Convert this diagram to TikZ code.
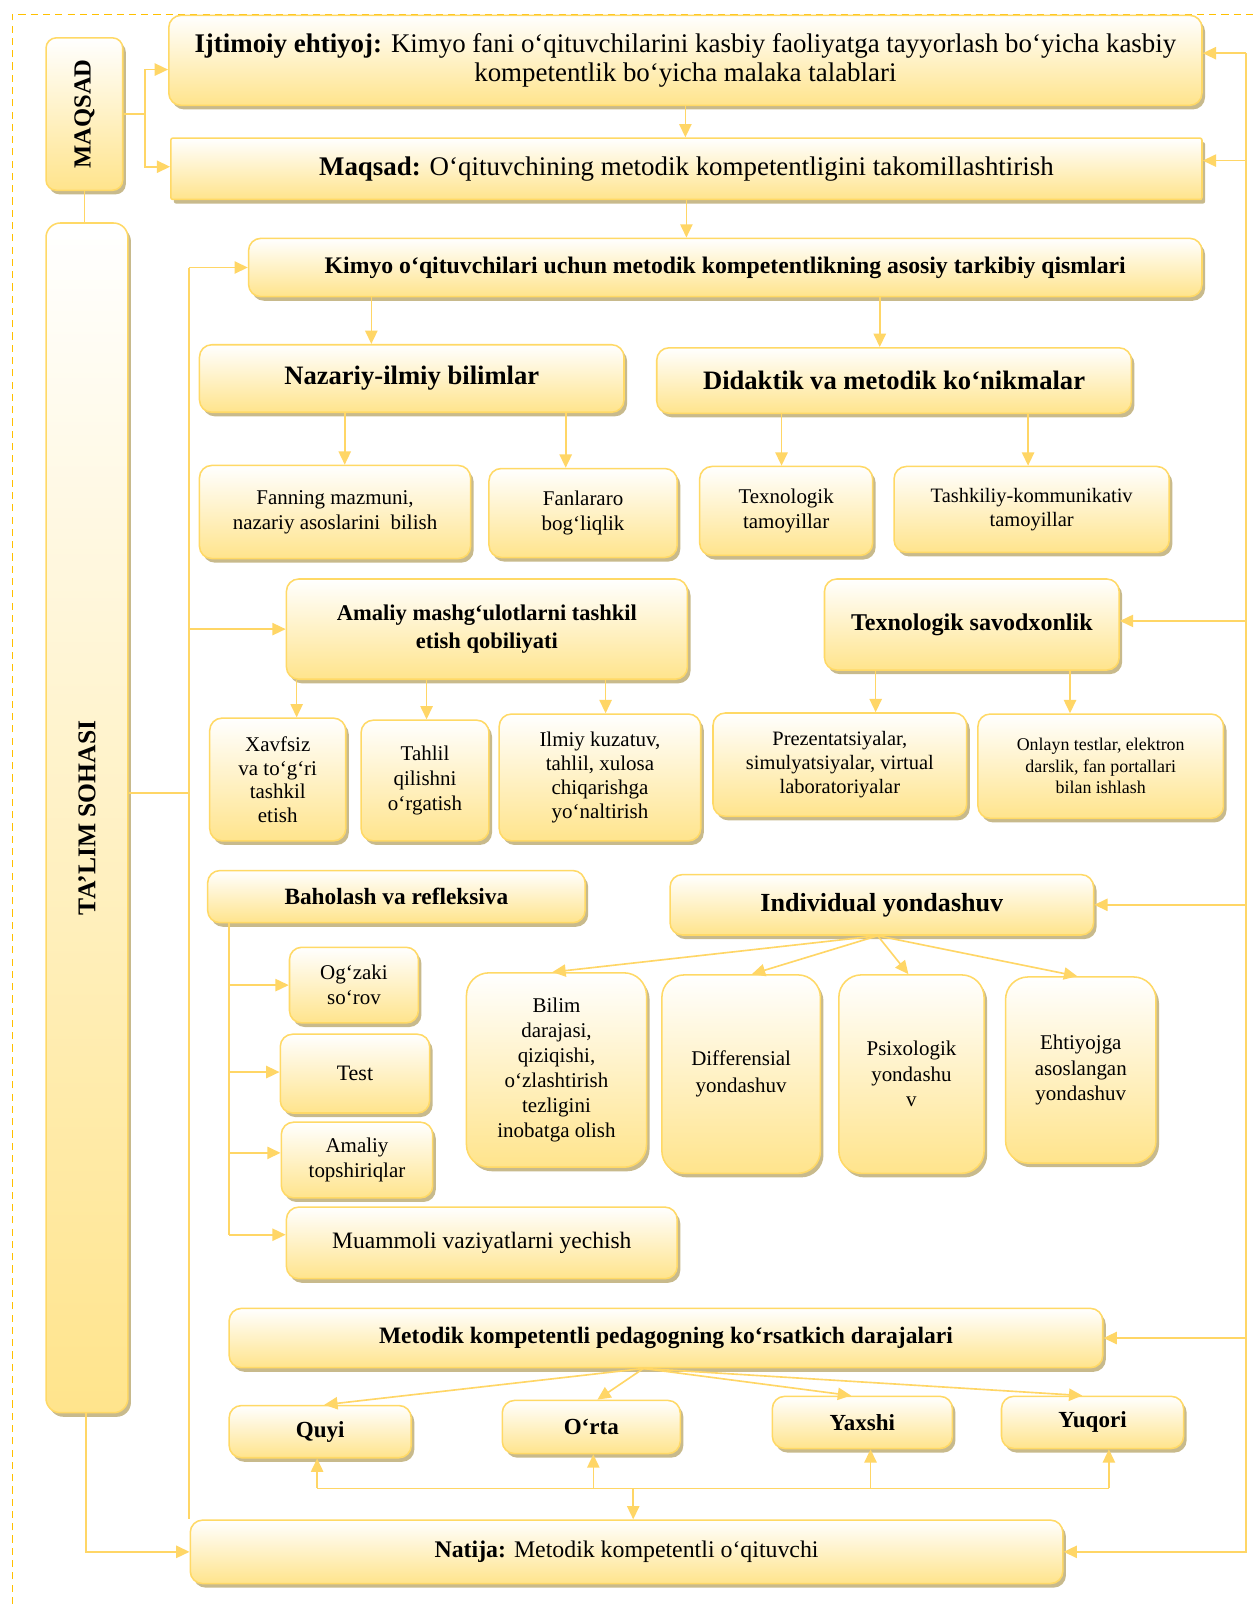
\documentclass[tikz,border=0pt]{standalone}
\usepackage{fontspec}
\setmainfont{Liberation Serif}
\usetikzlibrary{arrows.meta,shadows}
\definecolor{boxline}{RGB}{255,217,102}
\definecolor{boxfill}{RGB}{255,228,140}
\definecolor{shadowc}{RGB}{200,186,140}
\definecolor{connc}{RGB}{255,214,102}
\definecolor{dashc}{RGB}{255,192,0}
\newcommand{\fsz}[2]{\fontsize{#1}{#2}\selectfont}
\begin{document}
\begin{tikzpicture}[x=1pt,y=-1pt,
  box/.style={draw=boxline, line width=1.5pt, rounded corners=12pt,
    top color=white, bottom color=boxfill,
    drop shadow={shadow xshift=3pt, shadow yshift=-4pt, fill=shadowc, opacity=1},
    inner sep=0pt, align=center, text=black},
  tall/.style={box, rounded corners=22pt},
  cline/.style={draw=connc, line width=1.6pt},
  arr/.style={cline, -{Triangle[length=13pt,width=12pt]}},
  small/.style={font={\fsz{20.5}{24.5}}},
  bhead/.style={font={\fsz{22}{28}\bfseries}},
  lvl/.style={font={\fsz{22.5}{26}\bfseries}}]
\fill[white] (0,0) rectangle (1225,1568);
\useasboundingbox (0,0) rectangle (1225,1568);
\draw[dashc, line width=1.5pt, dash pattern=on 7pt off 5pt] (12,1568) -- (12,14) -- (1225,14);

% left column
\node[box, rounded corners=10pt, minimum width=75pt, minimum height=149pt] (maqsadL) at (82.5,111.5) {};
\node[rotate=90, font={\fsz{24}{28}\bfseries}] (maqsadT) at (maqsadL.center) {MAQSAD};
\node[box, rounded corners=14pt, minimum width=80pt, minimum height=1163pt] (talim) at (85,799.5) {};
\node[rotate=90, font={\fsz{25}{28}\bfseries}] (talimT) at (talim.center) {TA’LIM SOHASI};

% top boxes
\node[box, minimum width=1010pt, minimum height=88pt, font={\fsz{26.3}{28}}] (ijt) at (670,59)
  {\textbf{Ijtimoiy ehtiyoj:} Kimyo fani o‘qituvchilarini kasbiy faoliyatga tayyorlash bo‘yicha kasbiy\\kompetentlik bo‘yicha malaka talablari};
\node[box, rounded corners=2pt, minimum width=1008pt, minimum height=60pt, font={\fsz{26.3}{30}}] (maqsad) at (671,165)
  {\textbf{Maqsad:} O‘qituvchining metodik kompetentligini takomillashtirish};
\node[box, minimum width=932pt, minimum height=57pt, font={\fsz{23.2}{26}\bfseries}] (kimyo) at (709,261.5)
  {Kimyo o‘qituvchilari uchun metodik kompetentlikning asosiy tarkibiy qismlari};

% level 2
\node[box, minimum width=415pt, minimum height=66pt, font={\fsz{26}{30}\bfseries}] (naz) at (402.5,370) {Nazariy-ilmiy bilimlar};
\node[box, minimum width=464pt, minimum height=64pt, font={\fsz{26}{30}\bfseries}] (did) at (874,372) {Didaktik va metodik ko‘nikmalar};

\node[box, small, minimum width=265pt, minimum height=91pt] (fan) at (327.5,500.5) {Fanning mazmuni,\\nazariy asoslarini\ \ bilish};
\node[box, small, minimum width=184pt, minimum height=87pt] (fanl) at (570,501.5) {Fanlararo\\bog‘liqlik};
\node[box, small, minimum width=169pt, minimum height=87pt] (texn) at (768.5,499.5) {Texnologik\\tamoyillar};
\node[box, font={\fsz{20}{24}}, minimum width=269pt, minimum height=84pt] (tash) at (1008.5,498) {Tashkiliy-kommunikativ\\tamoyillar};

\node[box, bhead, minimum width=392pt, minimum height=98pt] (amal) at (476,615) {Amaliy mashg‘ulotlarni tashkil\\etish qobiliyati};
\node[box, font={\fsz{23.5}{28}\bfseries}, minimum width=288pt, minimum height=89pt] (savod) at (950,610.5) {Texnologik savodxonlik};

\node[box, font={\fsz{20.5}{23}}, minimum width=133pt, minimum height=120pt] (xavf) at (271.5,762) {Xavfsiz\\va to‘g‘ri\\tashkil\\etish};
\node[box, small, minimum width=125pt, minimum height=118pt] (tahl) at (415.5,763) {Tahlil\\qilishni\\o‘rgatish};
\node[box, font={\fsz{20.5}{23.3}}, minimum width=197pt, minimum height=124pt] (ilmiy) at (586.5,760) {Ilmiy kuzatuv,\\tahlil, xulosa\\chiqarishga\\yo‘naltirish};
\node[box, font={\fsz{20}{23.5}}, minimum width=248pt, minimum height=101pt] (prez) at (821,747.5) {Prezentatsiyalar,\\simulyatsiyalar, virtual\\laboratoriyalar};
\node[box, font={\fsz{17.5}{21}}, minimum width=240pt, minimum height=102pt] (onl) at (1076,749) {Onlayn testlar, elektron\\darslik, fan portallari\\bilan ishlash};

% assessment
\node[box, font={\fsz{22.8}{26}\bfseries}, minimum width=369pt, minimum height=51pt] (bah) at (387.5,876.5) {Baholash va refleksiva};
\node[box, font={\fsz{25.5}{28}\bfseries}, minimum width=414pt, minimum height=59pt] (ind) at (862,884.5) {Individual yondashuv};

\node[box, small, minimum width=126pt, minimum height=74pt] (ogz) at (346,963) {Og‘zaki\\so‘rov};
\node[box, font={\fsz{21.5}{24}}, minimum width=146pt, minimum height=77pt] (test) at (347,1049.5) {Test};
\node[box, font={\fsz{20.5}{24}}, minimum width=148pt, minimum height=74pt] (amt) at (349,1134) {Amaliy\\topshiriqlar};
\node[box, font={\fsz{23}{26}}, minimum width=382pt, minimum height=70pt] (muam) at (471,1215) {Muammoli vaziyatlarni yechish};

\node[tall, small, minimum width=176pt, minimum height=190pt] (bilim) at (544,1046) {Bilim\\darajasi,\\qiziqishi,\\o‘zlashtirish\\tezligini\\inobatga olish};
\node[tall, font={\fsz{20.5}{26}}, minimum width=155pt, minimum height=194pt] (diff) at (724.5,1050) {Differensial\\yondashuv};
\node[tall, font={\fsz{20.5}{25}}, minimum width=142pt, minimum height=194pt] (psix) at (891,1050) {Psixologik\\yondashu\\v};
\node[tall, small, minimum width=147pt, minimum height=182pt] (ehti) at (1056.5,1046) {Ehtiyojga\\asoslangan\\yondashuv};

% levels
\node[box, font={\fsz{23}{26}\bfseries}, minimum width=854pt, minimum height=58pt] (met) at (651,1308) {Metodik kompetentli pedagogning ko‘rsatkich darajalari};
\node[box, lvl, minimum width=178pt, minimum height=51pt] (quyi) at (313,1399.5) {Quyi};
\node[box, lvl, minimum width=174pt, minimum height=52pt] (orta) at (578,1395) {O‘rta};
\node[box, lvl, minimum width=176pt, minimum height=51pt] (yax) at (843,1390.5) {Yaxshi};
\node[box, lvl, minimum width=178pt, minimum height=51pt] (yuq) at (1068,1390.5) {Yuqori};
\node[box, font={\fsz{23.3}{26}}, minimum width=853pt, minimum height=62pt] (nat) at (612.5,1517) {\textbf{Natija:} Metodik kompetentli o‘qituvchi};

% connectors: maqsad column
\coordinate (mq) at (142,0 |- maqsadL.east);
\draw[cline] (maqsadL.east) -- (mq);
\draw[arr] (mq) -- (142,68) -- (ijt.west |- 0,68);
\draw[arr] (mq) -- (142,163) -- (maqsad.west |- 0,163);
\draw[cline] (maqsadL.south) -- (maqsadL.south |- talim.north);

% main vertical chain
\draw[arr] (ijt.south) -- (ijt.south |- maqsad.north);
\draw[arr] (maqsad.south) -- (maqsad.south |- kimyo.north);
\draw[arr] (363,0 |- kimyo.south) -- (363,0 |- naz.north);
\draw[arr] (860,0 |- kimyo.south) -- (860,0 |- did.north);
\draw[arr] (337,0 |- naz.south) -- (337,0 |- fan.north);
\draw[arr] (553,0 |- naz.south) -- (553,0 |- fanl.north);
\draw[arr] (764,0 |- did.south) -- (764,0 |- texn.north);
\draw[arr] (1005,0 |- did.south) -- (1005,0 |- tash.north);
\draw[arr] (290,0 |- amal.south) -- (290,0 |- xavf.north);
\draw[arr] (417,0 |- amal.south) -- (417,0 |- tahl.north);
\draw[arr] (592,0 |- amal.south) -- (592,0 |- ilmiy.north);
\draw[arr] (856,0 |- savod.south) -- (856,0 |- prez.north);
\draw[arr] (1046,0 |- savod.south) -- (1046,0 |- onl.north);

% left bus
\draw[cline] (talim.east |- 0,775) -- (185,775);
\draw[cline] (185,0 |- kimyo.west) -- (185,0 |- nat.north);
\draw[arr] (185,0 |- kimyo.west) -- (kimyo.west);
\draw[arr] (185,0 |- amal.west) -- (amal.west);
\draw[arr] (84,0 |- talim.south) -- (84,0 |- nat.west) -- (nat.west);

% right bus
\draw[cline] (1218,52) -- (1218,1518);
\draw[arr] (1218,52) -- (ijt.east |- 0,52);
\draw[arr] (1218,157) -- (maqsad.east |- 0,157);
\draw[arr] (1218,607) -- (savod.east |- 0,607);
\draw[arr] (1218,884.5) -- (ind.east);
\draw[arr] (1218,1308) -- (met.east);
\draw[arr] (1218,1517) -- (nat.east);

% assessment bus
\draw[cline] (224,0 |- bah.south) -- (224,1207);
\draw[arr] (224,963) -- (ogz.west |- 0,963);
\draw[arr] (224,1048) -- (test.west |- 0,1048);
\draw[arr] (224,1127) -- (amt.west |- 0,1127);
\draw[arr] (224,1207) -- (muam.west |- 0,1207);

% individual fan-out
\draw[arr] ([xshift=-4pt]ind.south) -- (540,0 |- bilim.north);
\draw[arr] ([xshift=-4pt]ind.south) -- (735,0 |- diff.north);
\draw[arr] ([xshift=-4pt]ind.south) -- (888,0 |- psix.north);
\draw[arr] ([xshift=-4pt]ind.south) -- (1053,0 |- ehti.north);

% levels fan-out
\draw[arr] ([xshift=-22pt]met.south) -- (317,0 |- quyi.north);
\draw[arr] ([xshift=-22pt]met.south) -- (584,0 |- orta.north);
\draw[arr] ([xshift=-22pt]met.south) -- (832,0 |- yax.north);
\draw[arr] ([xshift=-22pt]met.south) -- (1058,0 |- yuq.north);

% bottom bus
\draw[cline] (310,1455) -- (1084,1455);
\draw[arr] (310,1455) -- (310,0 |- quyi.south);
\draw[arr] (580,1455) -- (580,0 |- orta.south);
\draw[arr] (851,1455) -- (851,0 |- yax.south);
\draw[arr] (1084,1455) -- (1084,0 |- yuq.south);
\draw[arr] (619,1455) -- (619,0 |- nat.north);
\end{tikzpicture}
\end{document}
